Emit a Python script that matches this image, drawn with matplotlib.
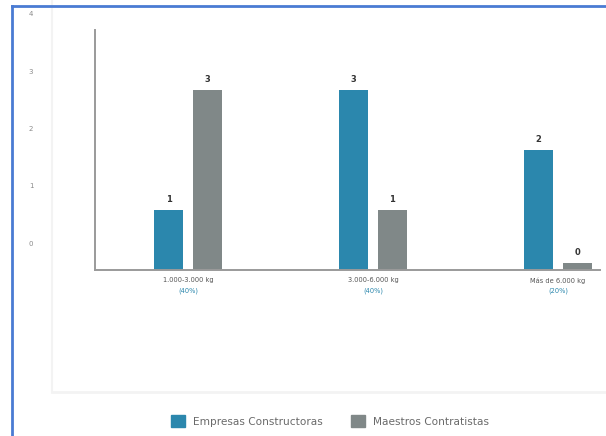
import numpy as np
import matplotlib.pyplot as plt
from matplotlib.lines import Line2D
from matplotlib.patches import Rectangle

###### DATA ######
categories = ["1.000-3.000 kg", "3.000-6.000 kg", "Más de 6.000 kg"]
shares = ["(40%)", "(40%)", "(20%)"]
empresas = [1, 3, 2]
maestros = [3, 1, 0]
series_names = ["Empresas Constructoras", "Maestros Contratistas"]
y_ticks = [0, 1, 2, 3, 4]

###### STYLE ######
blue = "#2b87ad"
gray = "#808888"
axis_col = "#9a9a9a"
label_col = "#555555"
bar_w = 0.157
offset = 0.105
min_len = 0.11   # smallest drawn height so zero bars stay visible

W, H = 606, 436
fig = plt.figure(figsize=(W / 100, H / 100), dpi=100)
fig.patch.set_facecolor("white")

def px(x0, y0, w, h):
    # pixel box (top-left origin) -> figure fraction
    return [x0 / W, 1 - (y0 + h) / H, w / W, h / H]

# faint panel outline and blue frame
fig.add_artist(Line2D([52 / W, 52 / W], [1, 1 - 392 / H], color="#f3f3f3", lw=1.5))
fig.add_artist(Line2D([52 / W, 1], [1 - 392 / H, 1 - 392 / H], color="#f3f3f3", lw=2))
fig.add_artist(Line2D([12 / W, 12 / W], [0, 1 - 6 / H], color="#4a7bd3", lw=2))
fig.add_artist(Line2D([12 / W, 1], [1 - 6 / H, 1 - 6 / H], color="#4a7bd3", lw=2))

ax = fig.add_axes(px(95, 30, 505, 240))
x = np.arange(len(categories))
e = np.array(empresas, dtype=float)
m = np.array(maestros, dtype=float)

ax.bar(x - offset, np.maximum(e, min_len), bar_w, color=blue)
ax.bar(x + offset, np.maximum(m, min_len), bar_w, color=gray)

for i in range(len(categories)):
    ax.text(x[i] - offset, max(e[i], min_len) + 0.1, str(empresas[i]), ha="center", va="bottom",
            fontsize=6, fontweight="bold", color="#333333")
    ax.text(x[i] + offset, max(m[i], min_len) + 0.1, str(maestros[i]), ha="center", va="bottom",
            fontsize=6, fontweight="bold", color="#333333")
    ax.text(x[i], -0.03, categories[i], transform=ax.get_xaxis_transform(), ha="center", va="top",
            fontsize=4.8, color=label_col)
    ax.text(x[i], -0.075, shares[i], transform=ax.get_xaxis_transform(), ha="center", va="top",
            fontsize=4.8, color=blue)

ax.set_xlim(-0.503, 2.227)
ax.set_ylim(0, 4)
ax.set_xticks([])
ax.set_yticks([])
for s in ["top", "right"]:
    ax.spines[s].set_visible(False)
ax.spines["left"].set_color(axis_col)
ax.spines["bottom"].set_color(axis_col)
ax.spines["left"].set_linewidth(1.4)
ax.spines["bottom"].set_linewidth(1.4)

# y labels sit on their own strip
ay = fig.add_axes(px(36, 14, 1, 229))
ay.set_ylim(0, 4)
ay.set_yticks(y_ticks)
ay.set_yticklabels([str(t) for t in y_ticks], fontsize=5, color="#8a8a8a")
ay.tick_params(length=0, pad=2)
ay.set_xticks([])
for s in ay.spines.values():
    s.set_visible(False)
ay.patch.set_alpha(0)

# legend
handles = [Rectangle((0, 0), 1, 1, color=blue), Rectangle((0, 0), 1, 1, color=gray)]
fig.legend(handles, series_names, loc="center", bbox_to_anchor=(330 / W, 1 - 421 / H),
           ncol=2, frameon=False, fontsize=7.6, labelcolor="#6a6a6a",
           handlelength=1.3, handleheight=1.3, columnspacing=2.7, handletextpad=0.75)

fig.savefig("out.png", dpi=100)
